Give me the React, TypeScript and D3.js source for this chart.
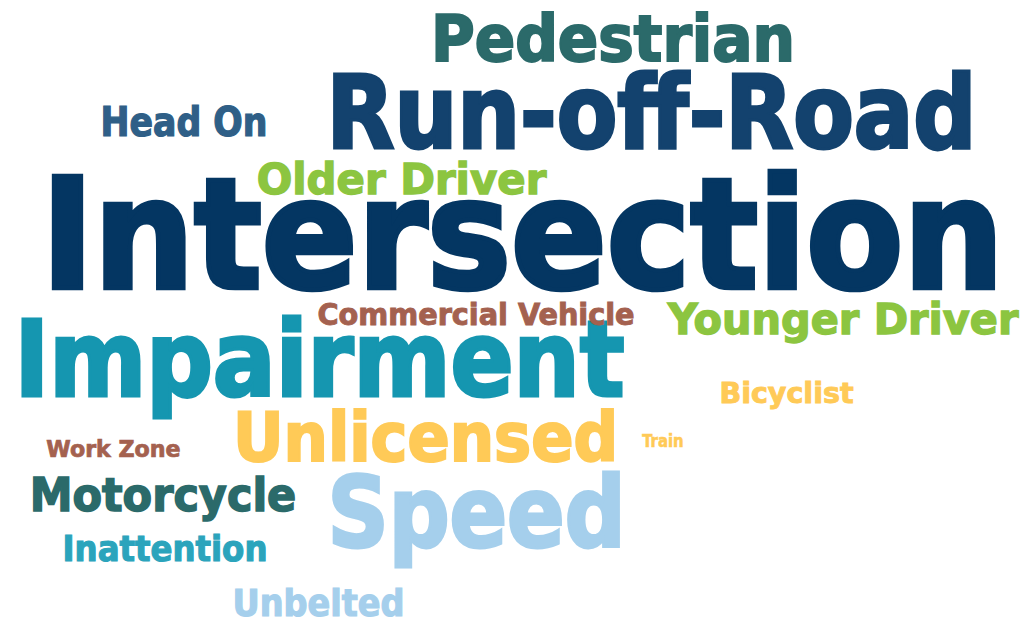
import * as d3 from "d3";

// crash emphasis areas and their relative weight
const words = [
  "Intersection", "Impairment", "Run-off-Road", "Speed", "Unlicensed",
  "Pedestrian", "Motorcycle", "Younger Driver", "Older Driver", "Head On",
  "Unbelted", "Inattention", "Commercial Vehicle", "Bicyclist", "Work Zone", "Train",
];
const weights = [117, 80, 77, 75, 52, 48, 35, 33, 33, 31, 28, 27, 23, 21, 17, 14];
const groups = [
  "navy", "teal", "blue", "sky", "yellow",
  "slate", "slate", "green", "green", "steel",
  "sky", "aqua", "brown", "yellow", "brown", "yellow",
];

// layout: left edge, baseline, word span (px)
const layoutX = [39, 13, 325, 326, 232, 430, 29, 667, 256, 100, 232, 62, 317, 719, 46, 642];
const layoutY = [290, 398, 150, 548, 462, 62, 512, 335, 195, 137, 617, 562, 325, 403, 457, 447];
const spans = [967, 613, 653, 301, 387, 366, 268, 352, 291, 168, 173, 206, 318, 135, 135, 42];

const palette: Record<string, string> = {
  navy: "#043662",
  blue: "#13426e",
  steel: "#2f5f87",
  slate: "#2b6a6a",
  teal: "#1596b0",
  aqua: "#2ba4bc",
  green: "#8cc540",
  brown: "#a4614f",
  yellow: "#ffca57",
  sky: "#a5cfec",
};

const W = 1024;
const H = 623;
const CAP = 0.729; // cap height ratio of the font
const BOLD = 0.03; // extra stroke, in em, to get the heavy look

export default function App() {
  const maxW = d3.max(weights) as number;
  const size = d3.scaleLinear().domain([0, maxW]).range([0, maxW / (CAP + BOLD)]);
  const color = d3.scaleOrdinal<string, string>().domain(Object.keys(palette)).range(Object.values(palette));

  return (
    <svg width={W} height={H} style={{ position: "absolute", left: 0, top: 0, background: "#fff" }}>
      {words.map((w, i) => {
        const fs = size(weights[i]);
        const sw = fs * BOLD;
        return (
          <text
            key={w}
            x={layoutX[i] + sw / 2}
            y={layoutY[i] - sw / 2}
            fontFamily="'DejaVu Sans Condensed', 'DejaVu Sans', sans-serif"
            fontWeight="bold"
            fontSize={fs}
            fill={color(groups[i])}
            stroke={color(groups[i])}
            strokeWidth={sw}
            strokeLinejoin="miter"
            textLength={spans[i] - sw}
            lengthAdjust="spacingAndGlyphs"
          >
            {w}
          </text>
        );
      })}
    </svg>
  );
}
